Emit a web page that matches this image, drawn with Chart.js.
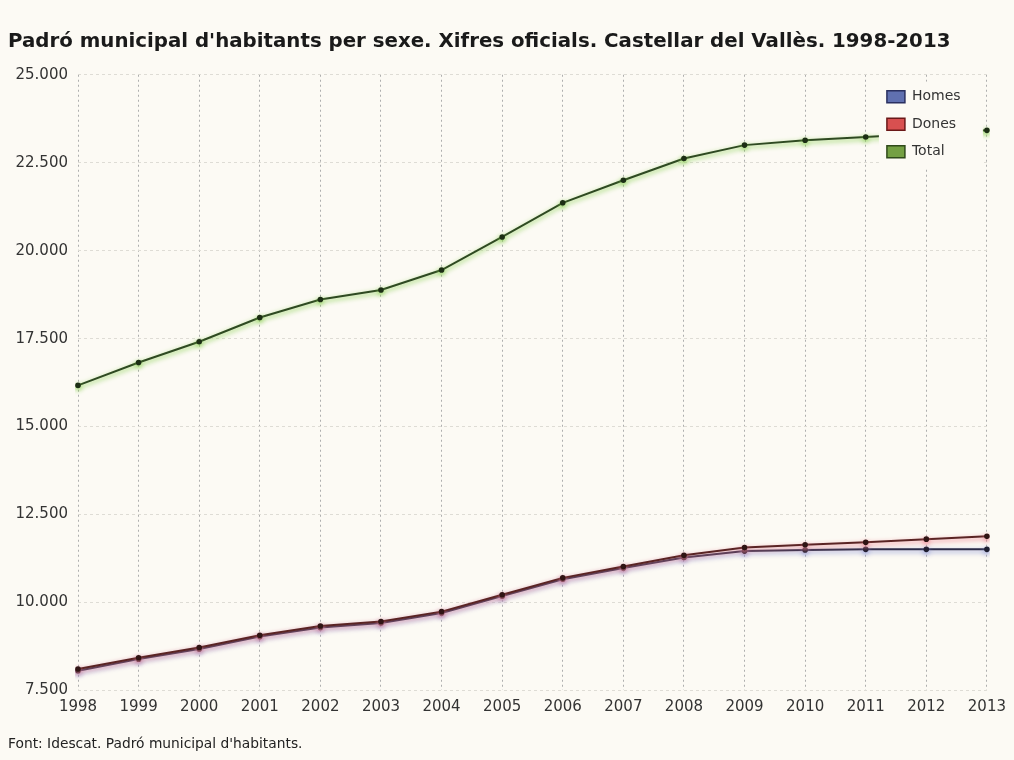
<!DOCTYPE html>
<html>
<head>
<meta charset="utf-8">
<script src="https://cdn.jsdelivr.net/npm/chart.js@4.4.0/dist/chart.umd.min.js"></script>
<style>
  body { margin: 0; background: #fcfaf4; }
  #wrap { width: 1014px; height: 760px; position: relative; }
</style>
</head>
<body>
<div id="wrap"><canvas id="padro"></canvas></div>
<script>
// years on the x axis
let years = ['1998', '1999', '2000', '2001', '2002', '2003', '2004', '2005',
  '2006', '2007', '2008', '2009', '2010', '2011', '2012', '2013'];

// values
let homes = [8060, 8390, 8680, 9030, 9290, 9420, 9700, 10180,
  10660, 10980, 11280, 11460, 11490, 11510, 11510, 11510];
let dones = [8110, 8430, 8720, 9070, 9330, 9460, 9740, 10220,
  10700, 11020, 11340, 11560, 11640, 11710, 11800, 11880];
let total = [16170, 16820, 17410, 18100, 18610, 18880, 19450, 20390,
  21360, 22000, 22620, 23000, 23140, 23230, 23330, 23420];

// y axis ticks
let yMin = 7500;
let yMax = 25000;
let yStep = 2500;

let bg = '#fcfaf4';

// thousands with a dot, like the original
function fmt(v) {
  return String(v).replace(/\B(?=(\d{3})+(?!\d))/g, '.');
}

// paper colour behind everything
const paperPlugin = {
  id: 'paper',
  beforeDraw(chart) {
    const c = chart.ctx;
    c.save();
    c.fillStyle = bg;
    c.fillRect(0, 0, chart.width, chart.height);
    c.restore();
  }
};

// soft coloured halo under each line
const glowPlugin = {
  id: 'glow',
  beforeDatasetDraw(chart, args) {
    const ds = chart.data.datasets[args.index];
    const c = chart.ctx;
    c.save();
    c.shadowColor = ds.glow;
    c.shadowBlur = 5;
    c.shadowOffsetY = 2;
  },
  afterDatasetDraw(chart) {
    chart.ctx.restore();
  }
};

// legend box sitting inside the plot, top right
const boxLegend = {
  id: 'boxLegend',
  afterDatasetsDraw(chart) {
    const c = chart.ctx;
    const area = chart.chartArea;
    const x = area.right - 108;
    const y = area.top + 7;
    c.save();
    c.fillStyle = bg;
    c.fillRect(x, y, 104, 86);
    c.font = '14px "DejaVu Sans"';
    c.textBaseline = 'middle';
    c.textAlign = 'left';
    chart.data.datasets.forEach((ds, i) => {
      const cy = y + 15 + i * 27.5;
      c.fillStyle = ds.swatch;
      c.fillRect(x + 8, cy - 6, 18, 12);
      c.strokeStyle = ds.swatchEdge;
      c.lineWidth = 1.5;
      c.strokeRect(x + 8, cy - 6, 18, 12);
      c.fillStyle = '#333';
      c.fillText(ds.label, x + 33, cy);
    });
    c.restore();
  }
};

const ctx = document.getElementById('padro').getContext('2d');

new Chart(ctx, {
  type: 'line',
  data: {
    labels: years,
    datasets: [
      {
        label: 'Homes',
        data: homes,
        borderColor: '#2c2c48',
        pointBackgroundColor: '#1e1e30',
        glow: 'rgba(130, 140, 210, 0.9)',
        swatch: '#6070b0',
        swatchEdge: '#2a3060',
        order: 1
      },
      {
        label: 'Dones',
        data: dones,
        borderColor: '#5a2424',
        pointBackgroundColor: '#301414',
        glow: 'rgba(235, 120, 135, 0.95)',
        swatch: '#d85050',
        swatchEdge: '#6a1818',
        order: 0
      },
      {
        label: 'Total',
        data: total,
        borderColor: '#2f4a22',
        pointBackgroundColor: '#1c2e14',
        glow: 'rgba(130, 205, 70, 0.95)',
        swatch: '#74a043',
        swatchEdge: '#2f4a1a',
        order: 2
      }
    ]
  },
  options: {
    responsive: true,
    maintainAspectRatio: false,
    animation: false,
    elements: {
      line: { borderWidth: 2, tension: 0 },
      point: { radius: 2.8, borderWidth: 0, hoverRadius: 3 }
    },
    layout: { padding: { left: 8, right: 26, top: 0, bottom: 0 } },
    plugins: {
      legend: { display: false },
      tooltip: { enabled: false },
      title: {
        display: true,
        text: "Padró municipal d'habitants per sexe. Xifres oficials. Castellar del Vallès. 1998-2013",
        align: 'start',
        color: '#1a1a1a',
        font: { family: 'DejaVu Sans', size: 19.8, weight: 'bold' },
        padding: { top: 30, bottom: 21 }
      },
      subtitle: {
        display: true,
        position: 'bottom',
        text: "Font: Idescat. Padró municipal d'habitants.",
        align: 'start',
        color: '#222',
        font: { family: 'DejaVu Sans', size: 13.8 },
        padding: { top: 12, bottom: 7 }
      }
    },
    scales: {
      x: {
        grid: {
          color: '#aeaeae',
          drawTicks: false
        },
        border: { display: false, dash: [2, 3] },
        ticks: {
          padding: 8,
          color: '#333',
          maxRotation: 0,
          autoSkip: false,
          font: { family: 'DejaVu Sans', size: 15 }
        },
        afterFit(scale) { scale.height = 34; }
      },
      y: {
        min: yMin,
        max: yMax,
        grid: {
          color: '#dedcd5',
          drawTicks: false
        },
        border: { display: false, dash: [3, 3] },
        ticks: {
          stepSize: yStep,
          padding: 10,
          color: '#333',
          font: { family: 'DejaVu Sans', size: 15 },
          callback: v => fmt(v)
        },
        afterFit(scale) { scale.width = 70; }
      }
    }
  },
  plugins: [paperPlugin, glowPlugin, boxLegend]
});
</script>
</body>
</html>
